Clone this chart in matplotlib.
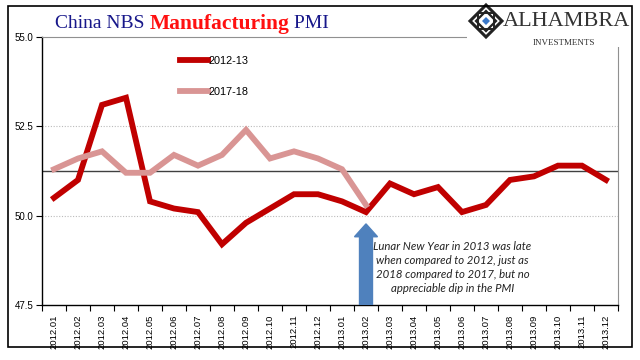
import matplotlib
matplotlib.use("Agg")
import matplotlib.pyplot as plt
from matplotlib.patches import Rectangle, Polygon
import numpy as np

months = ["2012.01", "2012.02", "2012.03", "2012.04", "2012.05", "2012.06",
          "2012.07", "2012.08", "2012.09", "2012.10", "2012.11", "2012.12",
          "2013.01", "2013.02", "2013.03", "2013.04", "2013.05", "2013.06",
          "2013.07", "2013.08", "2013.09", "2013.10", "2013.11", "2013.12"]
pmi_2012_13 = [50.5, 51.0, 53.1, 53.3, 50.4, 50.2, 50.1, 49.2, 49.8, 50.2, 50.6, 50.6,
               50.4, 50.1, 50.9, 50.6, 50.8, 50.1, 50.3, 51.0, 51.1, 51.4, 51.4, 51.0]
pmi_2017_18 = [51.3, 51.6, 51.8, 51.2, 51.2, 51.7, 51.4, 51.7, 52.4, 51.6, 51.8, 51.6,
               51.3, 50.3]
ref_level = 51.25
y_ticks = [47.5, 50.0, 52.5, 55.0]

RED = "#C00000"
PINK = "#D99594"
NAVY = "#17178A"

fig = plt.figure(figsize=(6.4, 3.6), dpi=100)
ax = fig.add_axes([42/640, 1 - 305/360, 576/640, 268/360])

x = np.arange(len(months))
ax.axhline(ref_level, color="#404040", lw=1.0, zorder=2)
ax.plot(x, pmi_2012_13, color=RED, lw=4.2, solid_joinstyle="miter", zorder=3, label="2012-13")
ax.plot(x[:len(pmi_2017_18)], pmi_2017_18, color=PINK, lw=4.2, solid_joinstyle="miter",
        zorder=3, label="2017-18")

ax.set_xlim(-0.5, len(months) - 0.5)
ax.set_ylim(47.5, 55.0)
ax.set_yticks(y_ticks)
ax.set_yticklabels([f"{v:.1f}" for v in y_ticks], fontsize=7, family="Liberation Sans")
for v in [50.0, 52.5]:
    ax.axhline(v, color="#BBBBBB", lw=0.8, ls=(0, (1, 1.5)), zorder=1)

ax.set_xticks(x)
ax.set_xticklabels(months, rotation=90, fontsize=6.8, family="Liberation Sans")
ax.set_xticks(np.arange(-0.5, len(months)), minor=True)
ax.tick_params(axis="x", which="major", length=0, pad=7)
ax.tick_params(axis="x", which="minor", length=4, width=0.8, direction="out")
ax.tick_params(axis="y", length=4, width=0.8, direction="out", pad=2)

for s in ["left", "bottom"]:
    ax.spines[s].set_color("black")
    ax.spines[s].set_linewidth(1.0)
for s in ["right", "top"]:
    ax.spines[s].set_color("#909090")
    ax.spines[s].set_linewidth(0.8)

ax.legend(loc="upper left", bbox_to_anchor=(0.222, 0.965), frameon=False,
          handlelength=2.6, handletextpad=0.1, labelspacing=1.95,
          prop={"family": "Liberation Sans", "size": 7.8})

# arrow + annotation
ax.arrow(13, 47.5, 0, 2.27, width=0.54, head_width=0.96, head_length=0.36,
         length_includes_head=True, color="#4F81BD", zorder=4)
ax.text(16.6, 48.55, "Lunar New Year in 2013 was late\nwhen compared to 2012, just as\n"
        "2018 compared to 2017, but no\nappreciable dip in the PMI",
        ha="center", va="center", fontsize=8.2, style="italic", family="Lato",
        color="#222222", linespacing=1.35)

# title in three colours
ty = 1 - 23.5/360
t1 = fig.text(55/640, ty, "China NBS ", fontsize=14, color=NAVY,
              family="Liberation Serif", va="center")
t2 = fig.text(0, 0, "Manufacturing", fontsize=15.5, color="#FF1010", weight="bold",
              family="Liberation Serif", va="center")
t3 = fig.text(0, 0, " PMI", fontsize=14, color=NAVY, family="Liberation Serif", va="center")
fig.canvas.draw()
r = fig.canvas.get_renderer()
bb = t1.get_window_extent(r)
t2.set_position((bb.x1 / 640, ty))
bb = t2.get_window_extent(r)
t3.set_position((bb.x1 / 640, ty))

# logo area (white box hides top spine)
fig.patches.append(Rectangle((467/640, 1 - 47/360), 160/640, 45/360,
                             transform=fig.transFigure, facecolor="white",
                             edgecolor="none", zorder=5))
cx, cy, s = 486/640, 1 - 21/360, 16
def diamond(cx, cy, rx, ry):
    return [(cx, cy + ry), (cx + rx, cy), (cx, cy - ry), (cx - rx, cy)]
fig.patches.append(Polygon(diamond(cx, cy, s/640, s/360), closed=True,
                           transform=fig.transFigure, facecolor="white",
                           edgecolor="#222222", lw=2.2, zorder=6))
fig.patches.append(Polygon(diamond(cx, cy, 10/640, 10/360), closed=True,
                           transform=fig.transFigure, facecolor="none",
                           edgecolor="#222222", lw=1.6, zorder=6))
fig.patches.append(Rectangle((cx - 8/640, cy - 8/360), 16/640, 16/360,
                             transform=fig.transFigure, facecolor="none",
                             edgecolor="#222222", lw=1.4, zorder=6))
fig.patches.append(Polygon(diamond(cx, cy, 4/640, 4/360), closed=True,
                           transform=fig.transFigure, facecolor="#3A78C9",
                           edgecolor="none", zorder=7))
fig.text(566/640, 1 - 22/360, "ALHAMBRA", fontsize=16, color="#333333",
         family="Liberation Serif", ha="center", va="center", zorder=8)
fig.text(564/640, 1 - 43/360, "INVESTMENTS", fontsize=6.5, color="#333333",
         family="Liberation Serif", ha="center", va="center", zorder=8)

# outer border
fig.patches.append(Rectangle((8/640, 1 - 347/360), 624/640, 341/360,
                             transform=fig.transFigure, facecolor="none",
                             edgecolor="black", lw=1.2, zorder=9))

fig.savefig("out.png", dpi=100)
